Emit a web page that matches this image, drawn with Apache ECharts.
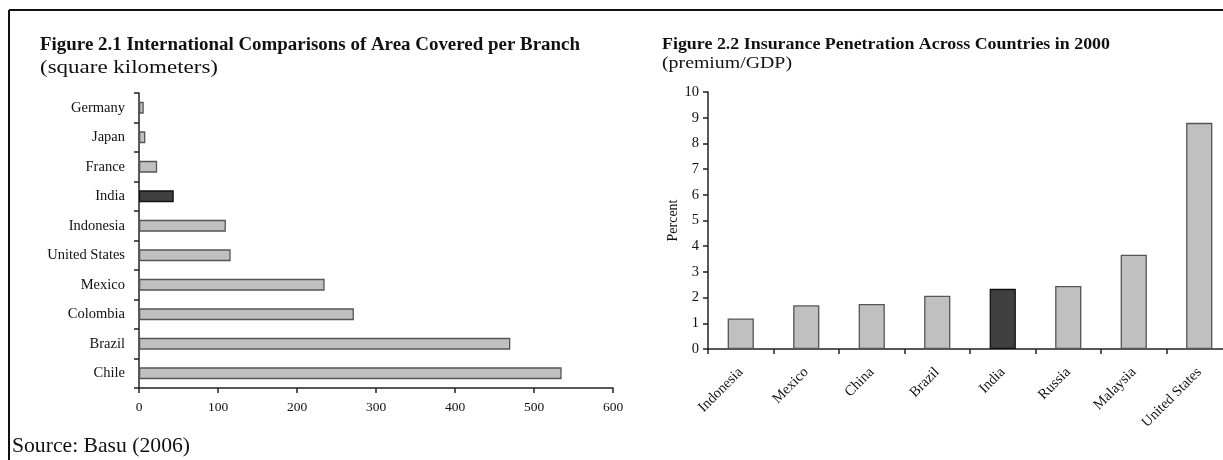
<!DOCTYPE html>
<html>
<head>
<meta charset="utf-8">
<script src="https://cdn.jsdelivr.net/npm/echarts@6/dist/echarts.min.js"></script>
<style>
html,body{margin:0;padding:0;background:#fff;overflow:hidden;width:1223px;height:460px;}
#chart{width:1232px;height:460px;}
</style>
</head>
<body>
<div id="chart"></div>
<script>
// Figure 2.1 data
const branchCountries = ['Germany','Japan','France','India','Indonesia','United States','Mexico','Colombia','Brazil','Chile'];
const branchArea = [6, 8, 23, 44, 110, 116, 235, 272, 470, 535];
const branchTicks = [0, 100, 200, 300, 400, 500, 600];

// Figure 2.2 data
const insCountries = ['Indonesia','Mexico','China','Brazil','India','Russia','Malaysia','United States'];
const insPenetration = [1.19, 1.70, 1.75, 2.07, 2.34, 2.45, 3.67, 8.8];
const insTicks = [0,1,2,3,4,5,6,7,8,9,10];

const titleLeft = 'Figure 2.1 International Comparisons of Area Covered per Branch';
const subLeft = '(square kilometers)';
const titleRight = 'Figure 2.2 Insurance Penetration Across Countries in 2000';
const subRight = '(premium/GDP)';
const sourceText = 'Source: Basu (2006)';

const highlight = 'India';
const FONT = 'Liberation Serif';
const light = '#c0c0c0', dark = '#404040';

const ctx = document.createElement('canvas').getContext('2d');
// text drawn at a given size, stretched horizontally to span the measured width
function textItem(text, weight, size, x, width, cy) {
  ctx.font = weight + ' ' + size + 'px "' + FONT + '"';
  const sx = width / ctx.measureText(text).width;
  return {type: 'text', x: x, y: cy, scaleX: sx, scaleY: 1, silent: true,
          style: {text: text, fontFamily: FONT, fontWeight: weight, fontSize: size,
                  fill: '#111', align: 'left', verticalAlign: 'middle'}};
}

function styled(cats, vals) {
  return vals.map((v, i) => ({
    value: v,
    itemStyle: cats[i] === highlight
      ? {color: dark, borderColor: '#111', borderWidth: 1.3}
      : {color: light, borderColor: '#555', borderWidth: 1.3}
  }));
}

const chart = echarts.init(document.getElementById('chart'), null, {renderer: 'canvas'});
const axisLine = {show: true, lineStyle: {color: '#222', width: 1.5}};
const axisTick = {show: true, inside: false, length: 5, lineStyle: {color: '#222', width: 1.5}};
const lbl = {fontFamily: FONT, fontSize: 13, color: '#111'};

chart.setOption({
  animation: false,
  backgroundColor: '#fff',
  graphic: [
    {type: 'line', shape: {x1: 9, y1: 10, x2: 1232, y2: 10}, style: {stroke: '#111', lineWidth: 2}},
    {type: 'line', shape: {x1: 9, y1: 10, x2: 9, y2: 460}, style: {stroke: '#111', lineWidth: 2}},
    textItem(titleLeft, 'bold', 18, 40, 540, 45),
    textItem(subLeft, 'normal', 19, 40, 178, 68),
    textItem(titleRight, 'bold', 16.5, 662, 448, 45),
    textItem(subRight, 'normal', 17, 662, 130, 64),
    textItem(sourceText, 'normal', 21, 12, 178, 446)
  ],
  grid: [
    {left: 139, right: 1232 - 613, top: 93, bottom: 72, containLabel: false},
    {left: 708, right: 0, top: 92, bottom: 111, containLabel: false}
  ],
  xAxis: [
    {type: 'value', gridIndex: 0, min: branchTicks[0], max: branchTicks[branchTicks.length-1], interval: 100,
     axisLine: axisLine, axisTick: axisTick, splitLine: {show: false},
     axisLabel: Object.assign({margin: 12}, lbl, {fontSize: 13.5})},
    {type: 'category', gridIndex: 1, data: insCountries,
     axisLine: axisLine, axisTick: axisTick,
     axisLabel: Object.assign({rotate: 45, margin: 21, interval: 0}, lbl, {fontSize: 14.5})}
  ],
  yAxis: [
    {type: 'category', gridIndex: 0, data: branchCountries, inverse: true,
     axisLine: axisLine, axisTick: axisTick,
     axisLabel: Object.assign({margin: 14, interval: 0}, lbl, {fontSize: 14.5})},
    {type: 'value', gridIndex: 1, min: insTicks[0], max: insTicks[insTicks.length-1], interval: 1,
     axisLine: axisLine, axisTick: axisTick, splitLine: {show: false},
     axisLabel: Object.assign({margin: 9}, lbl, {fontSize: 14.5}),
     name: 'Percent', nameLocation: 'middle', nameGap: 22, nameRotate: 90,
     nameTextStyle: {fontFamily: FONT, fontSize: 14, color: '#111'}}
  ],
  series: [
    {type: 'bar', xAxisIndex: 0, yAxisIndex: 0, data: styled(branchCountries, branchArea),
     barCategoryGap: '60%'},
    {type: 'bar', xAxisIndex: 1, yAxisIndex: 1, data: styled(insCountries, insPenetration),
     barCategoryGap: '60%'}
  ]
});
</script>
</body>
</html>
